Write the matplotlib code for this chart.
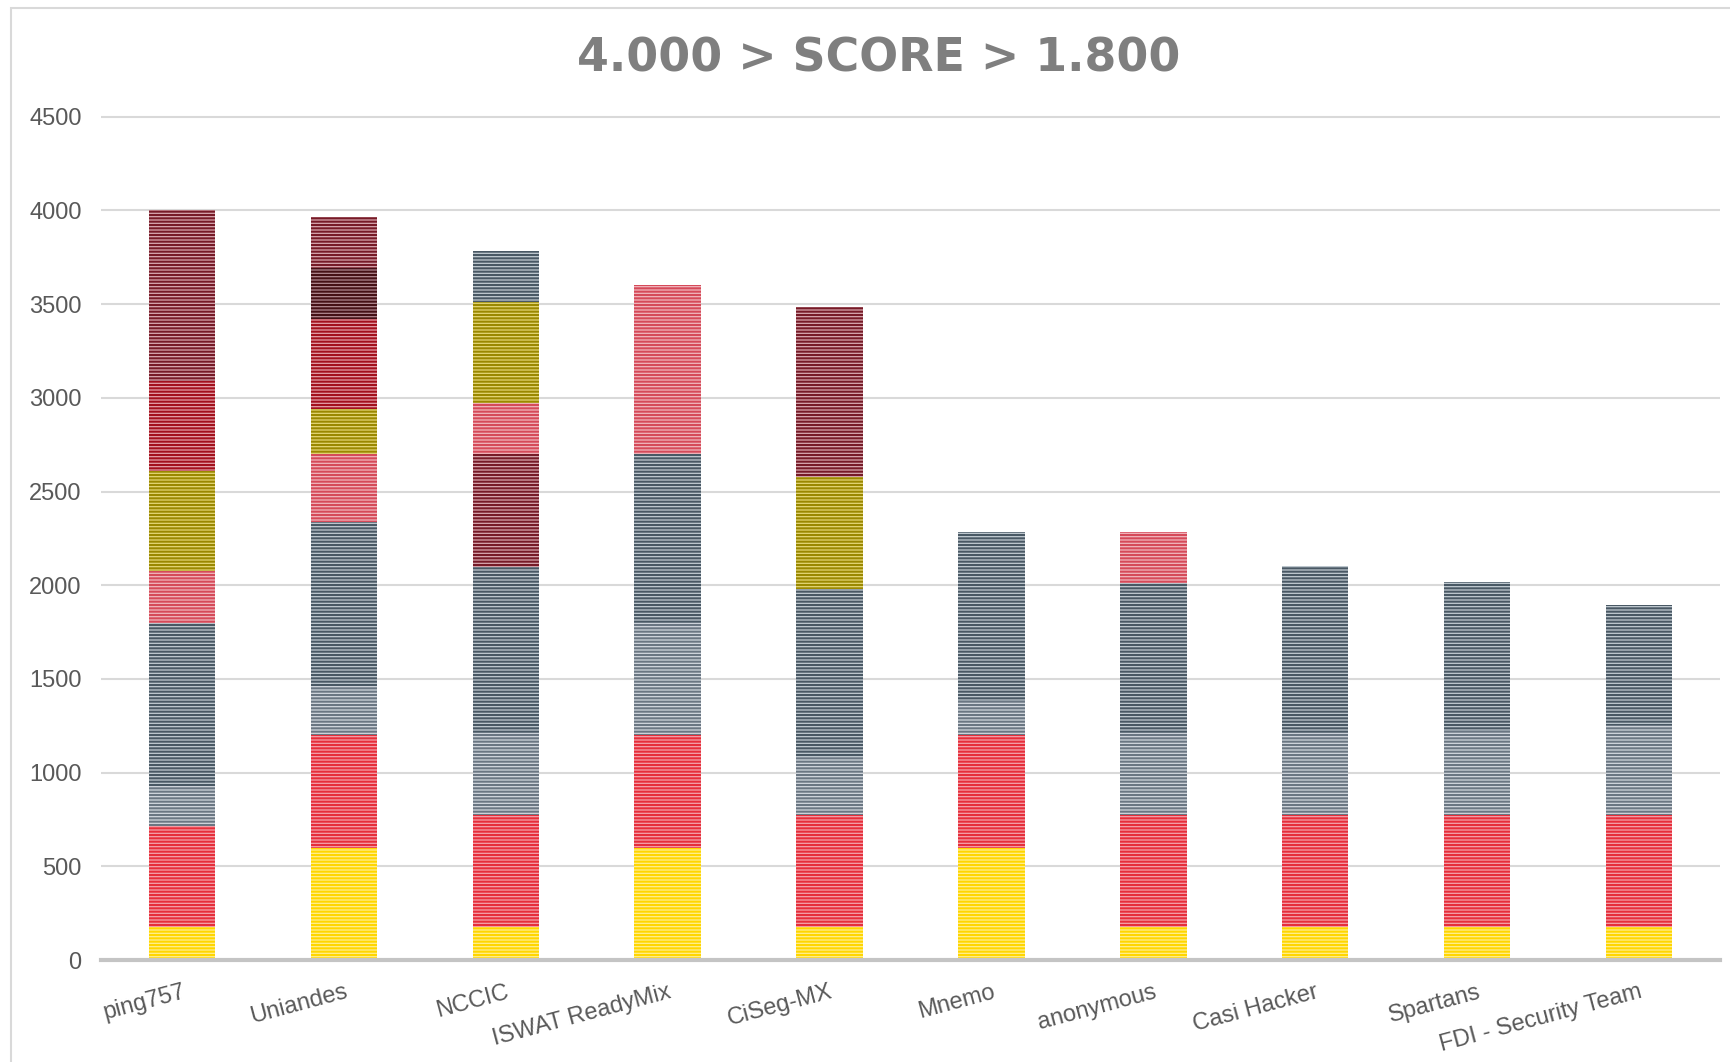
import matplotlib
matplotlib.use('Agg')
import matplotlib.pyplot as plt
from matplotlib.patches import Rectangle

# teams (x axis)
teams = ['ping757', 'Uniandes', 'NCCIC', 'ISWAT ReadyMix', 'CiSeg-MX',
         'Mnemo', 'anonymous', 'Casi Hacker', 'Spartans', 'FDI - Security Team']

# points per solved challenge, bottom to top, and the colour of each block
ping757_pts = [175, 540, 215, 870, 275, 535, 480, 910]
ping757_col = ['yellow', 'red', 'lgrey', 'slate', 'pink', 'gold', 'crimson', 'maroon']
uniandes_pts = [600, 600, 260, 880, 360, 240, 480, 275, 270]
uniandes_col = ['yellow', 'red', 'lgrey', 'slate', 'pink', 'gold', 'crimson', 'darkmaroon', 'maroon']
nccic_pts = [175, 600, 435, 890, 600, 275, 535, 275]
nccic_col = ['yellow', 'red', 'lgrey', 'slate', 'maroon', 'pink', 'gold', 'slate']
iswat_pts = [600, 600, 600, 900, 900]
iswat_col = ['yellow', 'red', 'lgrey', 'slate', 'pink']
ciseg_pts = [175, 600, 310, 895, 600, 905]
ciseg_col = ['yellow', 'red', 'lgrey', 'slate', 'gold', 'maroon']
mnemo_pts = [600, 600, 180, 905]
mnemo_col = ['yellow', 'red', 'lgrey', 'slate']
anonymous_pts = [175, 600, 435, 800, 275]
anonymous_col = ['yellow', 'red', 'lgrey', 'slate', 'pink']
casi_pts = [175, 600, 435, 895]
casi_col = ['yellow', 'red', 'lgrey', 'slate']
spartans_pts = [175, 600, 445, 795]
spartans_col = ['yellow', 'red', 'lgrey', 'slate']
fdi_pts = [175, 600, 480, 640]
fdi_col = ['yellow', 'red', 'lgrey', 'slate']

all_pts = [ping757_pts, uniandes_pts, nccic_pts, iswat_pts, ciseg_pts,
           mnemo_pts, anonymous_pts, casi_pts, spartans_pts, fdi_pts]
all_col = [ping757_col, uniandes_col, nccic_col, iswat_col, ciseg_col,
           mnemo_col, anonymous_col, casi_col, spartans_col, fdi_col]

# (background, stripe) colours
palette = {
    'yellow': ('#FFEF90', '#FFD600'),
    'red': ('#F4A2AA', '#E62E3A'),
    'pink': ('#F1B6BD', '#D54A59'),
    'gold': ('#E4D676', '#9A8800'),
    'crimson': ('#E4A0A8', '#A3101D'),
    'maroon': ('#D8A8AF', '#761A27'),
    'darkmaroon': ('#B08890', '#451016'),
    'slate': ('#C2CBD2', '#495864'),
    'lgrey': ('#D2D8DE', '#6A7682'),
}

plt.rcParams['font.family'] = ['Liberation Sans', 'DejaVu Sans']
plt.rcParams['hatch.linewidth'] = 1.5

fig = plt.figure(figsize=(17.31, 10.62), dpi=100)
ax = fig.add_axes([0.0584, 0.0960, 0.9352, 0.7976])

for i, (pts, cols) in enumerate(zip(all_pts, all_col)):
    bottom = 0
    for v, c in zip(pts, cols):
        face, stripe = palette[c]
        ax.bar(i, v, bottom=bottom, width=0.41, color=face, edgecolor=stripe,
               linewidth=0, hatch='-----', zorder=2)
        bottom += v

ax.set_xlim(-0.5, len(teams) - 0.5)
ax.set_ylim(0, 4520)
ax.set_yticks(range(0, 4501, 500))
ax.set_xticks(range(len(teams)))
ax.set_xticklabels(teams, rotation=15, ha='right', va='top', rotation_mode='anchor')

ax.yaxis.grid(True, color='#D9D9D9', linewidth=1.5)
ax.set_axisbelow(True)
for s in ['top', 'right', 'left']:
    ax.spines[s].set_visible(False)
ax.spines['bottom'].set_color('#C4C4C4')
ax.spines['bottom'].set_linewidth(3)
ax.spines['bottom'].set_zorder(3)

ax.tick_params(axis='y', length=0, pad=14, labelsize=17, labelcolor='#595959')
ax.tick_params(axis='x', length=0, pad=15, labelsize=17, labelcolor='#595959')

fig.text(0.5078, 1 - 59 / 1062, '4.000 > SCORE > 1.800', ha='center', va='center',
         fontsize=33, fontweight='bold', color='#7F7F7F', family='DejaVu Sans')

# chart area border
fig.patches.append(Rectangle((11 / 1731, -0.1), 1.2, 1.1 - 8 / 1062, transform=fig.transFigure,
                             fill=False, edgecolor='#D9D9D9', linewidth=1.5))

plt.savefig('out.png', dpi=100)
